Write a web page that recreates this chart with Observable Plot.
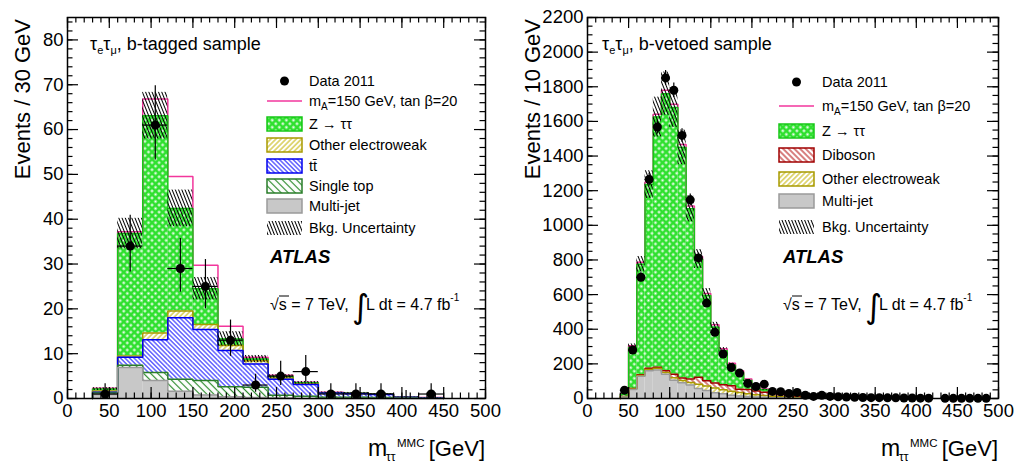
<!DOCTYPE html>
<html>
<head>
<meta charset="utf-8">
<script src="https://cdn.jsdelivr.net/npm/d3@7"></script>
<script src="https://cdn.jsdelivr.net/npm/@observablehq/plot@0.6"></script>
<style>
  body { margin: 0; background: #fff; }
  #wrap { display: flex; width: 1015px; height: 464px; overflow: hidden; }
  #wrap svg { display: block; overflow: visible; }
</style>
</head>
<body>
<div id="wrap"></div>
<script>
// ---------------- tick labels ----------------
const xTicks = [0, 50, 100, 150, 200, 250, 300, 350, 400, 450, 500];
const yTicksL = [0, 10, 20, 30, 40, 50, 60, 70, 80];
const yTicksR = [0, 200, 400, 600, 800, 1000, 1200, 1400, 1600, 1800, 2000, 2200];

// ---------------- left panel: b-tagged, 30 GeV bins ----------------
const edgesL = [30, 60, 90, 120, 150, 180, 210, 240, 270, 300, 330, 360, 390, 420]; // lower bin edges
const binWidthL = 30;
const multijetL  = [0.9, 6.9, 4.0, 1.6, 0.8, 0.4, 0.2, 0.1, 0, 0, 0, 0, 0, 0];
const singleTopL = [0.3, 0.5, 1.8, 2.7, 3.2, 2.2, 2.3, 0.6, 0.5, 0.3, 0.3, 0.2, 0.1, 0.05];
const ttbarL     = [0.2, 1.8, 7.3, 13.7, 11.4, 8.1, 5.2, 3.6, 2.6, 0.9, 0.8, 0.7, 0.2, 0.1];
const otherEWL   = [0.3, 0.3, 1.5, 1.5, 1.1, 1.1, 0.7, 0.3, 0.2, 0.05, 0.05, 0.05, 0, 0];
const ztautauL   = [0.4, 27.3, 48.5, 22.9, 8.0, 1.5, 0.4, 0.3, 0.2, 0.05, 0.05, 0.05, 0, 0];
const signalL    = [0.2, 0.4, 3.7, 7.1, 5.2, 2.8, 0.4, 0.3, 0.1, 0.1, 0.1, 0.05, 0.05, 0.05];
const bkgUncL    = [0.3, 3.4, 5.2, 4.1, 2.5, 1.6, 0.8, 0.4, 0.3, 0.15, 0.15, 0.1, 0.05, 0.05];
const dataL      = [1, 34, 61, 29, 25, 13, 3, 5, 6, 1, 1, 1, 0, 1];
const dataUpL    = [2.3, 6.9, 8.8, 6.7, 6.0, 4.5, 2.4, 3.3, 3.6, 2.3, 2.3, 2.3, 1.8, 2.3];
const dataDnL    = [0.8, 5.8, 7.8, 5.3, 5.0, 3.6, 1.6, 2.1, 2.4, 0.8, 0.8, 0.8, 0, 0.8];

// ---------------- right panel: b-vetoed, 10 GeV bins ----------------
const edgesR = [40, 50, 60, 70, 80, 90, 100, 110, 120, 130, 140, 150, 160, 170, 180, 190, 200, 210, 220, 230, 240, 250, 260, 270, 280, 290];
const binWidthR = 10;
const multijetR = [8, 52, 129, 160, 165, 140, 106, 91, 78, 58, 46, 33, 27, 19, 15, 12, 9, 7, 5, 4, 3, 2, 2, 1, 1, 1];
const otherEWR  = [2, 3, 4, 8, 9, 10, 14, 13, 14, 24, 26, 27, 23, 23, 19, 16, 13, 10, 8, 6, 5, 4, 3, 3, 2, 1.5];
const dibosonR  = [1, 3, 4, 7, 7, 10, 20, 14, 20, 40, 30, 29, 29, 31, 20, 24, 21, 19, 16, 12, 8, 6, 4, 3, 2, 1.5];
const ztautauR  = [14, 237, 638, 1060, 1444, 1600, 1540, 1332, 983, 683, 493, 323, 197, 119, 96, 52, 17, 14, 5, 5, 4, 3, 2, 1, 1, 0.5];
const signalR   = [2, 10, 12, 15, 16, 20, 19, 17, 16, 15, 12, 14, 11, 11, 10, 8, 6, 5, 4, 3, 2, 2, 1, 1, 1, 0.5];
const bkgUncR   = [2, 20, 45, 80, 115, 125, 115, 100, 75, 55, 40, 28, 18, 12, 9, 6, 4, 3, 2, 2, 1, 1, 1, 1, 0.5, 0.5];
const dataEdgesR = [40, 50, 60, 70, 80, 90, 100, 110, 120, 130, 140, 150, 160, 170, 180, 190, 200, 210, 220, 230, 240, 250, 260, 270, 280, 290, 300, 310, 320, 330, 340, 350, 360, 370, 380, 390, 400, 410, 420, 430, 440, 450, 460, 470, 480];
const dataR = [48, 280, 700, 1265, 1568, 1851, 1780, 1519, 1147, 812, 551, 382, 257, 179, 147, 87, 69, 83, 41, 39, 29, 35, 19, 12, 19, 12, 10, 8, 7, 6, 5, 5, 4, 4, 3, 3, 2, 2, 0, 1, 1, 1, 1, 1, 1];
const dataErrR = [7, 17, 26, 36, 40, 43, 42, 39, 34, 28, 23, 20, 16, 13, 12, 9, 8, 9, 6, 6, 5, 6, 4, 3.5, 4.4, 3.5, 3.2, 2.8, 2.6, 2.4, 2.2, 2.2, 2, 2, 1.7, 1.7, 1.4, 1.4, 0, 1, 1, 1, 1, 1, 1];

// ---------------- styling ----------------
const FONT = '"Liberation Sans", Arial, Helvetica, sans-serif';
const PINK = "#f2369c";
const MT = 17, MB = 66, HEIGHT = 464;
const MAJOR = 11, MINOR = 5.5;

function patternDefs(id) {
  const hatch = (name, color, s, sw, ang) =>
    `<pattern id="${id}-${name}" patternUnits="userSpaceOnUse" width="${s}" height="${s}" patternTransform="rotate(${ang})">` +
    `<line x1="${s / 2}" y1="-1" x2="${s / 2}" y2="${s + 1}" stroke="${color}" stroke-width="${sw}"/></pattern>`;
  return `<pattern id="${id}-z" patternUnits="userSpaceOnUse" width="5" height="5" patternTransform="rotate(45)">` +
    `<rect width="5" height="5" fill="#2fe02f"/><rect x="1.4" y="1.4" width="2.2" height="2.2" fill="#ffffff"/></pattern>` +
    hatch("ew", "#c4b200", 3.6, 1, 45) +
    hatch("tt", "#1414ff", 3.2, 1, -45) +
    hatch("st", "#2a8a2a", 5, 1.2, -45) +
    hatch("db", "#b00000", 4, 1, -45) +
    hatch("unc", "#000000", 3, 1, -22);
}

function panel(p) {
  const W = p.width - p.ml - p.mr;
  const H = HEIGHT - MT - MB;
  const ySpan = p.yDomain[1] - p.yDomain[0];
  // tick lengths converted from pixels to data units (styling only)
  const tyMaj = MAJOR * ySpan / H, tyMin = MINOR * ySpan / H;
  const txMaj = MAJOR * 500 / W, txMin = MINOR * 500 / W;
  const yTop = p.yDomain[1];

  // table of stacked boxes and cumulative tops
  const cum = p.edges.map(() => 0);
  const rectRows = [];
  const groups = p.comps.map(c => {
    const tops = p.edges.map((lo, i) => {
      const y1 = cum[i];
      cum[i] += c.values[i];
      rectRows.push({x1: lo, x2: lo + p.w, y1, y2: cum[i], fill: c.fill});
      return cum[i];
    });
    return {name: c.name, stroke: c.stroke, tops};
  });
  const total = cum.slice();
  const sigTops = total.map((t, i) => t + p.signal[i]);
  const last = p.edges[p.edges.length - 1] + p.w;
  const step = (name, stroke, tops) => {
    const r = [{x: p.edges[0], y: 0}];
    p.edges.forEach((lo, i) => r.push({x: lo, y: tops[i]}, {x: lo + p.w, y: tops[i]}));
    r.push({x: last, y: 0});
    return r.map(d => ({...d, name, stroke}));
  };
  const outlineRows = [
    ...step("signal", PINK, sigTops),
    ...groups.slice().reverse().flatMap(g => step(g.name, g.stroke, g.tops))
  ];
  const bandRows = p.edges.map((lo, i) => ({x1: lo, x2: lo + p.w, y1: total[i] - p.unc[i], y2: total[i] + p.unc[i]}));
  const dataRows = p.dataEdges.map((lo, i) => ({x: lo + p.dw / 2, x1: lo, x2: lo + p.dw, n: p.data[i], up: p.up[i], dn: p.dn[i]}))
    .filter(d => d.n > 0 || d.up > 0);
  const pts = dataRows.filter(d => d.n > 0);
  const xMinor = d3.range(0, 501, 10);
  const yMinor = d3.range(0, p.yDomain[1] + 1e-9, p.yMinorStep);
  const tk = {stroke: "black", strokeWidth: 1.2};

  const svg = Plot.plot({
    width: p.width, height: HEIGHT,
    marginLeft: p.ml, marginRight: p.mr, marginTop: MT, marginBottom: MB,
    x: {domain: [0, 500]},
    y: {domain: p.yDomain},
    style: {fontFamily: FONT, fontSize: "18px", color: "black", background: "white", overflow: "visible"},
    marks: [
      Plot.rect(rectRows, {x1: "x1", x2: "x2", y1: "y1", y2: "y2", fill: "fill", inset: 0}),
      Plot.line(outlineRows, {x: "x", y: "y", z: "name", stroke: "stroke", strokeWidth: 1.5, strokeLinejoin: "miter"}),
      Plot.rect(bandRows, {x1: "x1", x2: "x2", y1: "y1", y2: "y2", fill: `url(#${p.id}-unc)`, inset: 0}),
      Plot.ruleX(dataRows, {x: "x", y1: d => Math.max(0, d.n - d.dn), y2: d => d.n + d.up, stroke: "black", strokeWidth: 1.2}),
      Plot.ruleY(pts, {y: "n", x1: "x1", x2: "x2", stroke: "black", strokeWidth: 1.2}),
      Plot.dot(pts, {x: "x", y: "n", r: 4.5, fill: "black", stroke: "none"}),
      // inward ticks on all four sides
      Plot.ruleX(xMinor, {x: d => d, y1: 0, y2: tyMin, ...tk}),
      Plot.ruleX(xMinor, {x: d => d, y1: yTop - tyMin, y2: yTop, ...tk}),
      Plot.ruleX(xTicks, {x: d => d, y1: 0, y2: tyMaj, ...tk}),
      Plot.ruleX(xTicks, {x: d => d, y1: yTop - tyMaj, y2: yTop, ...tk}),
      Plot.ruleY(yMinor, {y: d => d, x1: 0, x2: txMin, ...tk}),
      Plot.ruleY(yMinor, {y: d => d, x1: 500 - txMin, x2: 500, ...tk}),
      Plot.ruleY(p.yTicks, {y: d => d, x1: 0, x2: txMaj, ...tk}),
      Plot.ruleY(p.yTicks, {y: d => d, x1: 500 - txMaj, x2: 500, ...tk}),
      Plot.frame({stroke: "black", strokeWidth: 1.5}),
      Plot.axisX(xTicks, {tickSize: 0, tickPadding: 5, fontSize: 18.5, tickFormat: d => String(d)}),
      Plot.axisY(p.yTicks, {tickSize: 0, tickPadding: 4, fontSize: 18.5, tickFormat: d => String(d)})
    ]
  });

  const defs = document.createElementNS("http://www.w3.org/2000/svg", "defs");
  defs.innerHTML = patternDefs(p.id);
  svg.insertBefore(defs, svg.firstChild);

  // overlay texts: sample label, legend, ATLAS label, energy, axis titles
  const g = document.createElementNS("http://www.w3.org/2000/svg", "g");
  g.setAttribute("font-family", FONT);
  g.setAttribute("fill", "black");
  g.setAttribute("text-anchor", "start");
  const L = p.leg;
  let html = "";
  html += `<text x="${p.sampleX}" y="50" font-size="18">τ<tspan dy="4" font-size="11">e</tspan><tspan dy="-4">τ</tspan><tspan dy="4" font-size="11">μ</tspan><tspan dy="-4">, ${p.sample}</tspan></text>`;
  for (const r of L.rows) {
    const cy = r.y;
    if (r.kind === "data") html += `<circle cx="${L.bx + 17.5}" cy="${cy}" r="4.5" fill="black"/>`;
    else if (r.kind === "line") html += `<line x1="${L.bx}" x2="${L.bx + 35}" y1="${cy}" y2="${cy}" stroke="${PINK}" stroke-width="1.6"/>`;
    else html += `<rect x="${L.bx}" y="${cy - 7}" width="35" height="14" fill="${r.fill}" stroke="${r.stroke || "none"}" stroke-width="1.5"/>`;
    html += `<text x="${L.tx}" y="${cy + 5}" font-size="14.5">${r.label}</text>`;
  }
  html += `<text x="${p.ax}" y="263" font-size="18.5" font-weight="bold" font-style="italic">ATLAS</text>`;
  html += `<text x="${p.ax}" y="310" font-size="16">√s = 7 TeV,</text>`;
  html += `<line x1="${p.ax + 9}" x2="${p.ax + 19}" y1="296" y2="296" stroke="black" stroke-width="1"/>`;
  html += `<text x="${p.ax + 82}" y="318" font-size="33" font-family="DejaVu Sans">∫</text>`;
  html += `<text x="${p.ax + 96}" y="310" font-size="16">L dt = 4.7 fb<tspan dy="-9" font-size="10">-1</tspan></text>`;
  html += `<text transform="translate(${p.ytx},19) rotate(-90)" text-anchor="end" font-size="22">${p.ytitle}</text>`;
  const R = p.width - p.mr;
  html += `<text x="${R - 117}" y="456" font-size="23">m</text>`;
  html += `<text x="${R - 99}" y="461" font-size="12">ττ</text>`;
  html += `<text x="${R - 88}" y="447" font-size="11.5">MMC</text>`;
  html += `<text x="${R}" y="456" font-size="22" text-anchor="end">[GeV]</text>`;
  g.innerHTML = html;
  svg.appendChild(g);
  return svg;
}

const sigLabel = 'm<tspan dy="4" font-size="10">A</tspan><tspan dy="-4">=150 GeV, tan β=20</tspan>';

const left = panel({
  id: "L", width: 507, ml: 67, mr: 22,
  edges: edgesL, w: binWidthL,
  comps: [
    {name: "Multi-jet", values: multijetL, fill: "#c8c8c8", stroke: "#9a9a9a"},
    {name: "Single top", values: singleTopL, fill: "url(#L-st)", stroke: "#2a7d2a"},
    {name: "ttbar", values: ttbarL, fill: "url(#L-tt)", stroke: "#0000ee"},
    {name: "Other electroweak", values: otherEWL, fill: "url(#L-ew)", stroke: "#a89a00"},
    {name: "Z", values: ztautauL, fill: "url(#L-z)", stroke: "#16c816"}
  ],
  signal: signalL, unc: bkgUncL,
  dataEdges: edgesL, dw: binWidthL, data: dataL, up: dataUpL, dn: dataDnL,
  yDomain: [0, 85], yTicks: yTicksL, yMinorStep: 2,
  sampleX: 90, sample: "b-tagged sample", ax: 270, ytx: 30, ytitle: "Events / 30 GeV",
  leg: {bx: 267, tx: 309, rows: [
    {y: 81, kind: "data", label: "Data 2011"},
    {y: 101, kind: "line", label: sigLabel},
    {y: 124, kind: "box", fill: "url(#L-z)", stroke: "#16c816", label: "Z → ττ"},
    {y: 145, kind: "box", fill: "url(#L-ew)", stroke: "#a89a00", label: "Other electroweak"},
    {y: 166, kind: "box", fill: "url(#L-tt)", stroke: "#0000ee", label: "tt\u0304"},
    {y: 186, kind: "box", fill: "url(#L-st)", stroke: "#2a7d2a", label: "Single top"},
    {y: 206, kind: "box", fill: "#c8c8c8", stroke: "#9a9a9a", label: "Multi-jet"},
    {y: 228, kind: "box", fill: "url(#L-unc)", label: "Bkg. Uncertainty"}
  ]}
});

const right = panel({
  id: "R", width: 508, ml: 80, mr: 17,
  edges: edgesR, w: binWidthR,
  comps: [
    {name: "Multi-jet", values: multijetR, fill: "#c8c8c8", stroke: "#9a9a9a"},
    {name: "Other electroweak", values: otherEWR, fill: "url(#R-ew)", stroke: "#a89a00"},
    {name: "Diboson", values: dibosonR, fill: "url(#R-db)", stroke: "#a00000"},
    {name: "Z", values: ztautauR, fill: "url(#R-z)", stroke: "#16c816"}
  ],
  signal: signalR, unc: bkgUncR,
  dataEdges: dataEdgesR, dw: 10, data: dataR, up: dataErrR, dn: dataErrR,
  yDomain: [0, 2200], yTicks: yTicksR, yMinorStep: 50,
  sampleX: 95, sample: "b-vetoed sample", ax: 276, ytx: 33, ytitle: "Events / 10 GeV",
  leg: {bx: 272, tx: 315, rows: [
    {y: 82, kind: "data", label: "Data 2011"},
    {y: 106, kind: "line", label: sigLabel},
    {y: 131, kind: "box", fill: "url(#R-z)", stroke: "#16c816", label: "Z → ττ"},
    {y: 155, kind: "box", fill: "url(#R-db)", stroke: "#a00000", label: "Diboson"},
    {y: 179, kind: "box", fill: "url(#R-ew)", stroke: "#a89a00", label: "Other electroweak"},
    {y: 201, kind: "box", fill: "#c8c8c8", stroke: "#9a9a9a", label: "Multi-jet"},
    {y: 227, kind: "box", fill: "url(#R-unc)", label: "Bkg. Uncertainty"}
  ]}
});

document.getElementById("wrap").append(left, right);
</script>
</body>
</html>
